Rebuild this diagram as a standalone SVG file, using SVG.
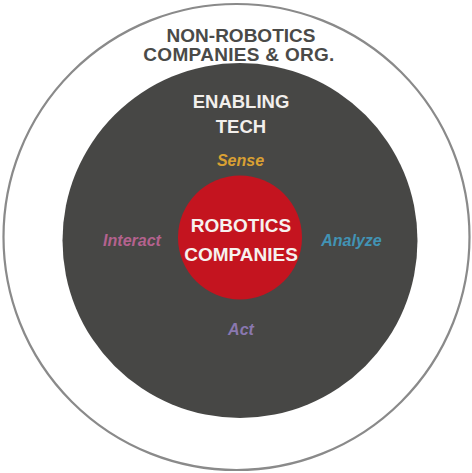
<svg xmlns="http://www.w3.org/2000/svg" width="472" height="473" viewBox="0 0 472 473">
<style>
.cap{font-family:"Liberation Sans",Arial,sans-serif;font-weight:bold;text-anchor:middle}
.lbl{font-family:"Liberation Sans",Arial,sans-serif;font-weight:bold;font-style:italic;font-size:16px;text-anchor:middle}
</style>
<rect width="472" height="473" fill="#ffffff"/>
<g id="non-robotics">
<circle cx="236.5" cy="237" r="233" fill="#ffffff" stroke="#8a8a8a" stroke-width="2.2"/>
<text class="cap" x="241" y="42" font-size="19" fill="#4a4a48">NON-ROBOTICS</text>
<text class="cap" x="239" y="61" font-size="19" fill="#4a4a48" letter-spacing="0.3">COMPANIES &amp; ORG.</text>
</g>
<g id="enabling-tech">
<circle cx="240" cy="240.5" r="177.5" fill="#474745"/>
<text class="cap" x="241" y="108" font-size="18.5" fill="#f2efec">ENABLING</text>
<text class="cap" x="241" y="133" font-size="18.5" fill="#f2efec">TECH</text>
<text class="lbl" x="240.5" y="166" fill="#d9a033">Sense</text>
<text class="lbl" x="132" y="246" fill="#b4628e">Interact</text>
<text class="lbl" x="351.5" y="246" fill="#4293b4">Analyze</text>
<text class="lbl" x="241" y="335" fill="#8a78b0">Act</text>
</g>
<g id="robotics">
<circle cx="240" cy="237.5" r="62" fill="#c4141f"/>
<text class="cap" x="241" y="232" font-size="19" fill="#f6f1ee">ROBOTICS</text>
<text class="cap" x="241" y="261" font-size="19" fill="#f6f1ee">COMPANIES</text>
</g>
<g id="connectors"/>
</svg>
